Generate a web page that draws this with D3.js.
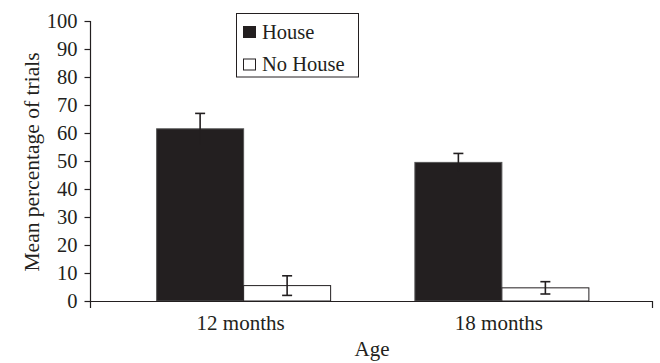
<!DOCTYPE html>
<html>
<head>
<meta charset="utf-8">
<script src="https://cdn.jsdelivr.net/npm/d3@7"></script>
<style>
  html, body { margin: 0; padding: 0; background: #fff; }
  svg { display: block; }
  text { font-family: 'Liberation Serif', 'Times New Roman', serif; fill: #231f20; }
</style>
</head>
<body>
<svg id="chart" width="660" height="363"></svg>
<script>
const categories = ["12 months", "18 months"];
const seriesNames = ["House", "No House"];
const houseValues = [61.5, 49.5];
const houseErrors = [5.5, 3.2];
const noHouseValues = [5.5, 4.7];
const noHouseErrors = [3.5, 2.2];
const yTicks = [0, 10, 20, 30, 40, 50, 60, 70, 80, 90, 100];
const yTitle = "Mean percentage of trials";
const xTitle = "Age";

const ink = "#231f20";
const serifFont = "'Liberation Serif', 'Times New Roman', serif";
const fills = { "House": ink, "No House": "#ffffff" };

const rows = [];
categories.forEach((c, i) => {
  rows.push({ cat: c, series: "House", value: houseValues[i], err: houseErrors[i] });
  rows.push({ cat: c, series: "No House", value: noHouseValues[i], err: noHouseErrors[i] });
});

const svg = d3.select("#chart");
const axisX0 = 90.5, axisX1 = 653, baseY = 301;

const y = d3.scaleLinear().domain([0, 100]).range([baseY, 21]);
const x = d3.scaleBand().domain(categories).range([114.5, 631]).padding(0);
const barW = 87;
const xs = d3.scaleBand().domain(seriesNames).range([-barW, barW]).padding(0);

// Y axis
const yAxis = svg.append("g")
  .attr("transform", `translate(${axisX0},0)`)
  .call(d3.axisLeft(y).tickValues(yTicks).tickSize(6).tickPadding(7).tickSizeOuter(0));
yAxis.attr("font-family", serifFont);
yAxis.select(".domain").remove();
yAxis.selectAll(".tick line").attr("stroke", ink).attr("stroke-width", 1.2);
yAxis.selectAll(".tick text").style("font-size", "20.5px").attr("fill", ink)
  .style("font-family", serifFont);
svg.append("line").attr("x1", axisX0).attr("x2", axisX0).attr("y1", y(100)).attr("y2", 308)
  .attr("stroke", ink).attr("stroke-width", 1.2);

// Bars
const cx = c => x(c) + x.bandwidth() / 2;
svg.append("g").selectAll("rect").data(rows).join("rect")
  .attr("x", d => cx(d.cat) + xs(d.series))
  .attr("y", d => y(d.value))
  .attr("width", xs.bandwidth())
  .attr("height", d => y(0) - y(d.value))
  .attr("fill", d => fills[d.series])
  .attr("stroke", d => d.series === "House" ? "#555" : ink)
  .attr("stroke-width", 1);

// Error bars
const eb = svg.append("g").selectAll("g").data(rows).join("g")
  .attr("transform", d => `translate(${cx(d.cat) + xs(d.series) + xs.bandwidth() / 2},0)`);
eb.append("line")
  .attr("y1", d => y(d.value + d.err)).attr("y2", d => y(d.value - d.err))
  .attr("stroke", ink).attr("stroke-width", 1.6);
eb.append("line").attr("x1", -5).attr("x2", 5)
  .attr("y1", d => y(d.value + d.err)).attr("y2", d => y(d.value + d.err))
  .attr("stroke", ink).attr("stroke-width", 1.6);
eb.filter(d => d.series === "No House").append("line").attr("x1", -5).attr("x2", 5)
  .attr("y1", d => y(d.value - d.err)).attr("y2", d => y(d.value - d.err))
  .attr("stroke", ink).attr("stroke-width", 1.6);

// X axis
svg.append("line").attr("x1", axisX0).attr("x2", axisX1).attr("y1", baseY + 0.5).attr("y2", baseY + 0.5)
  .attr("stroke", ink).attr("stroke-width", 1.2);
svg.append("line").attr("x1", axisX1 - 0.5).attr("x2", axisX1 - 0.5).attr("y1", baseY).attr("y2", 308)
  .attr("stroke", ink).attr("stroke-width", 1.2);
const xAxis = svg.append("g")
  .attr("transform", `translate(0,${baseY})`)
  .call(d3.axisBottom(x).tickSize(0).tickPadding(14));
xAxis.attr("font-family", serifFont);
xAxis.select(".domain").remove();
xAxis.selectAll(".tick text").style("font-size", "21px").attr("fill", ink).attr("x", -3)
  .style("font-family", serifFont);

// Titles
svg.append("text").attr("transform", `translate(39,162) rotate(-90)`)
  .attr("text-anchor", "middle").style("font-size", "21.5px").text(yTitle);
svg.append("text").attr("x", 372).attr("y", 356)
  .attr("text-anchor", "middle").style("font-size", "21px").text(xTitle);

// Legend
const lg = svg.append("g");
lg.append("rect").attr("x", 236.5).attr("y", 13.5).attr("width", 122).attr("height", 63.5)
  .attr("fill", "#fff").attr("stroke", ink).attr("stroke-width", 1);
const items = lg.selectAll("g.item").data(seriesNames).join("g").attr("class", "item")
  .attr("transform", (d, i) => `translate(0,${i * 32.5})`);
items.append("rect").attr("x", 243.5).attr("y", 26.5).attr("width", 12).attr("height", 11)
  .attr("fill", d => fills[d]).attr("stroke", ink).attr("stroke-width", 1);
items.append("text").attr("x", 262).attr("y", 38.5).style("font-size", "20.5px").text(d => d);
</script>
</body>
</html>
